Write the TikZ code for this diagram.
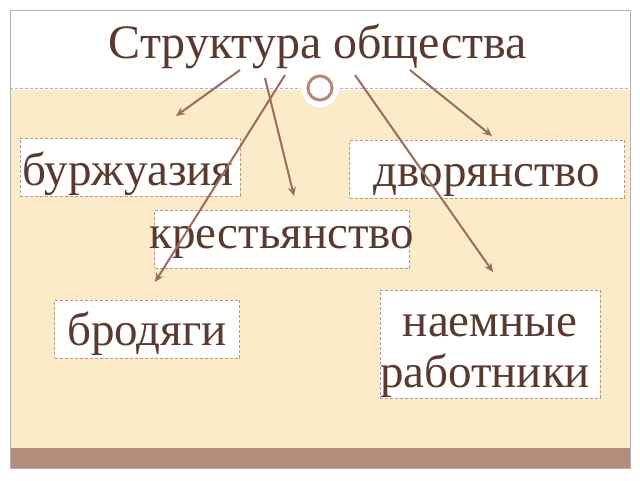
\documentclass[tikz,border=0pt]{standalone}
\usepackage{fontspec}
\setmainfont{Liberation Serif}
\usetikzlibrary{arrows.meta}
\definecolor{txt}{HTML}{5A3A2E}
\definecolor{arr}{HTML}{9C6B5A}
\definecolor{beige}{HTML}{FBEBC8}
\definecolor{band}{HTML}{B58B7C}
\colorlet{lgray}{gray!60}
\tikzset{
  box/.style={draw=arr!70,densely dashed,fill=white,inner sep=0pt,text=txt,font=\fontsize{47}{48}\selectfont},
  arrline/.style={draw=arr,line width=2pt,-{Stealth[length=9pt,width=8pt]}}
}
\begin{document}
\begin{tikzpicture}[x=1pt,y=-1pt]
\useasboundingbox (0,0) rectangle (640,480);
\fill[white] (0,0) rectangle (640,480);
\fill[beige] (10,90) rectangle (630,448);
\fill[band] (10,448) rectangle (630,468);
\draw[lgray] (10,10) rectangle (630,468);
\draw[lgray,densely dashed] (10,88) -- (630,88);
\node[text=txt,font=\fontsize{48}{50}\selectfont] (t) at (318,46) {Структура общества};
\fill[white] (320,88) circle (19);
\draw[arr!80,line width=3pt] (320,88) circle (12);
\node[box,minimum width=220,minimum height=58] (a) at (130,167) {};
\node[box,minimum width=275,minimum height=58] (b) at (487,169) {};
\node[box,minimum width=255,minimum height=58] (c) at (282,239) {};
\node[box,minimum width=185,minimum height=58] (d) at (147,329) {};
\node[box,minimum width=220,minimum height=108] (e) at (490,344) {};
\node[text=txt,font=\fontsize{47}{48}\selectfont] (at) at (128,174) {буржуазия};
\node[text=txt,font=\fontsize{47}{48}\selectfont] (bt) at (487,180) {дворянство};
\node[text=txt,font=\fontsize{47}{48}\selectfont] (ct) at (282,242) {крестьянство};
\node[text=txt,font=\fontsize{47}{48}\selectfont] (dt) at (147,334) {бродяги};
\node[text=txt,font=\fontsize{47}{48}\selectfont] (et1) at (490,326) {наемные};
\node[text=txt,font=\fontsize{47}{48}\selectfont] (et2) at (485,376) {работники};
\coordinate (a1) at (240,70); \coordinate (a2) at (176,116);
\coordinate (b1) at (410,70); \coordinate (b2) at (492,136);
\coordinate (c1) at (265,78); \coordinate (c2) at (294,196);
\coordinate (d1) at (285,75); \coordinate (d2) at (155,282);
\coordinate (e1) at (355,75); \coordinate (e2) at (493,272);
\foreach \s/\e in {a1/a2,b1/b2,c1/c2,d1/d2,e1/e2}{
  \draw[arrline] (\s) -- (\e);
}
\end{tikzpicture}
\end{document}
